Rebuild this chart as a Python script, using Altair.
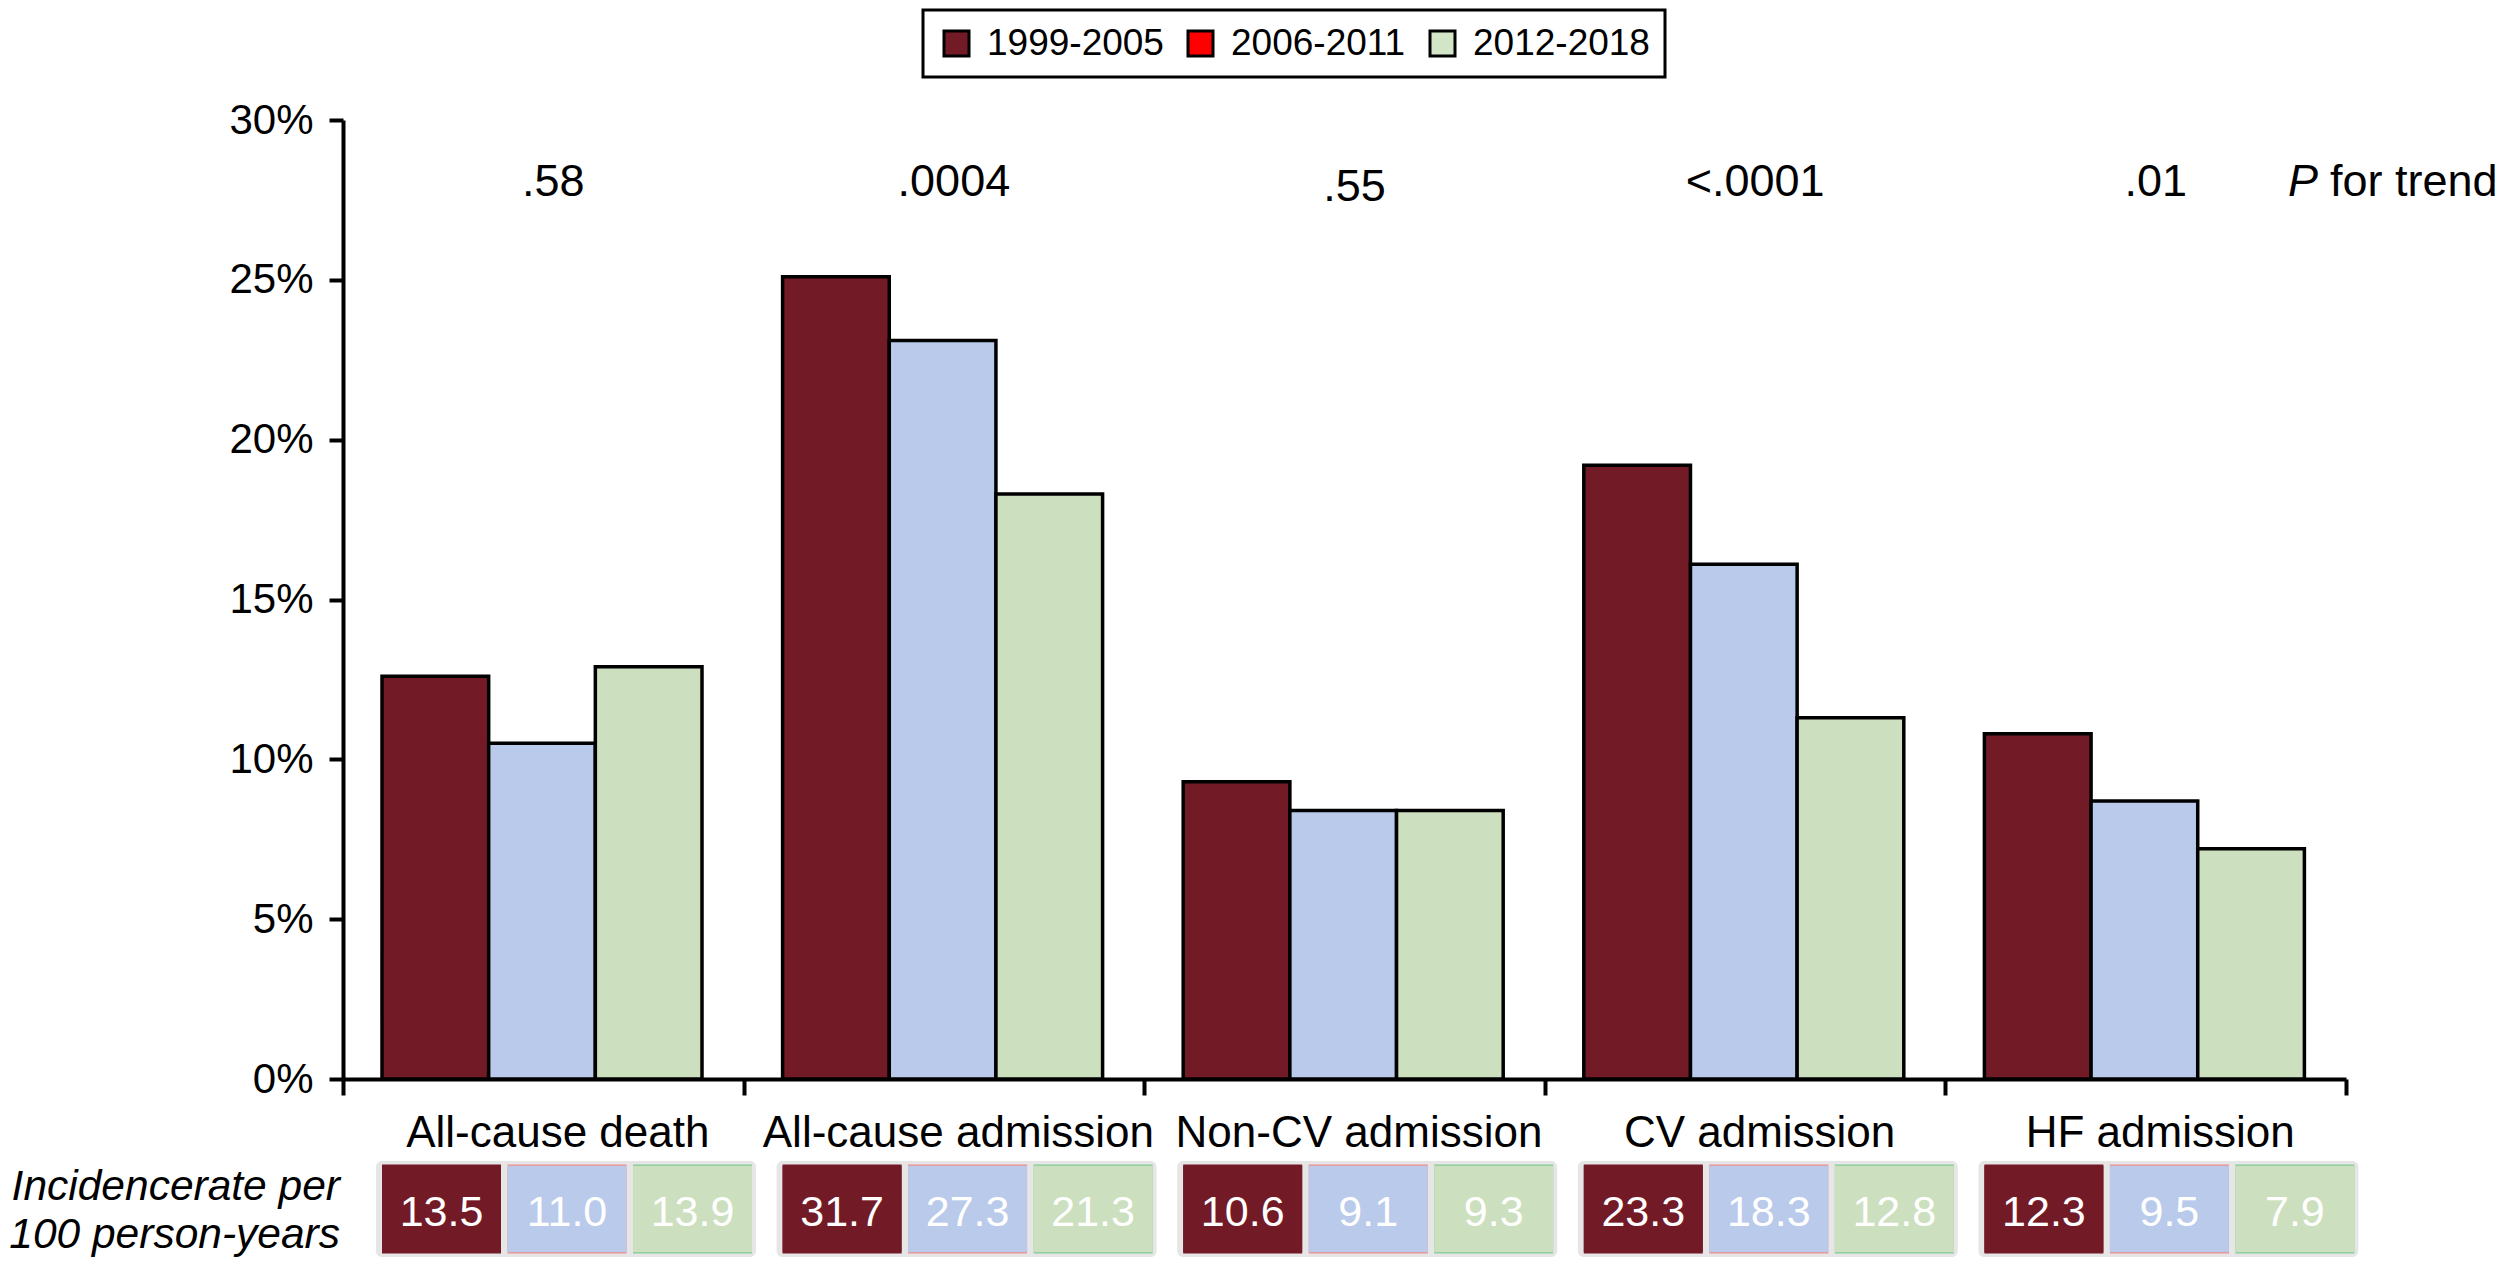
import pandas as pd
import altair as alt

# values
categories = ["All-cause death", "All-cause admission", "Non-CV admission",
              "CV admission", "HF admission"]
periods = ["1999-2005", "2006-2011", "2012-2018"]

pct_1999 = [12.6, 25.1, 9.3, 19.2, 10.8]
pct_2006 = [10.5, 23.1, 8.4, 16.1, 8.7]
pct_2012 = [12.9, 18.3, 8.4, 11.3, 7.2]

inc_1999 = [13.5, 31.7, 10.6, 23.3, 12.3]
inc_2006 = [11.0, 27.3, 9.1, 18.3, 9.5]
inc_2012 = [13.9, 21.3, 9.3, 12.8, 7.9]

p_trend = [".58", ".0004", ".55", "<.0001", ".01"]
p_level = [28.05, 28.05, 27.9, 28.05, 28.05]

bar_colors = ["#731A27", "#B9CAEB", "#CCDFBE"]
legend_colors = ["#731A27", "#FF0000", "#D2E5C6"]
border_colors = ["#731A27", "#F28A8A", "#7FCC94"]

FONT = "Liberation Sans"
W, H = 2003, 959
TABLE_H = 96

rows = []
for i, cat in enumerate(categories):
    pcts = [pct_1999[i], pct_2006[i], pct_2012[i]]
    incs = [inc_1999[i], inc_2006[i], inc_2012[i]]
    for j, period in enumerate(periods):
        rows.append({"category": cat, "period": period, "pct": pcts[j],
                     "inc": incs[j], "border": border_colors[j], "row": "r"})
df = pd.DataFrame(rows)
df_groups = pd.DataFrame({"category": categories, "g": "g", "row": "r"})
df_p = pd.DataFrame({"category": categories, "p": p_trend, "y": p_level})

x_axis = alt.Axis(title=None, labelAngle=0, tickBand="extent", tickSize=16,
                  labelPadding=16, labelFontSize=44, labelLimit=600,
                  labelOffset=14, labelOverlap=False, domainWidth=4,
                  tickWidth=4, domainColor="black", tickColor="black",
                  labelColor="black")
x_top = alt.X("category:N", sort=categories,
              scale=alt.Scale(paddingInner=0, paddingOuter=0), axis=x_axis)
x_bottom = alt.X("category:N", sort=categories,
                 scale=alt.Scale(paddingInner=0, paddingOuter=0), axis=None)

y_axis = alt.Axis(title=None, values=[0, 5, 10, 15, 20, 25, 30],
                  labelExpr="datum.value + '%'", tickSize=14, labelPadding=16,
                  labelFontSize=42, domainWidth=4, tickWidth=4, grid=False,
                  domainColor="black", tickColor="black", labelColor="black")
y_scale = alt.Scale(domain=[0, 30], nice=False)

# ---- bar panel ----
bars = alt.Chart(df).mark_bar(stroke="black", strokeWidth=3.5).encode(
    x=x_top,
    xOffset=alt.XOffset("period:N", sort=periods,
                        scale=alt.Scale(range=[39, 359], paddingInner=0, paddingOuter=0)),
    y=alt.Y("pct:Q", scale=y_scale, axis=y_axis, stack=None),
    fill=alt.Fill("period:N", sort=periods,
                  scale=alt.Scale(domain=periods, range=bar_colors), legend=None),
)

# legend keeps the figure's own swatch colours
legend_layer = alt.Chart(df).mark_bar(opacity=0).encode(
    x=x_top,
    y=alt.Y("pct:Q", scale=y_scale, axis=y_axis, stack=None),
    color=alt.Color(
        "period:N", sort=periods,
        scale=alt.Scale(domain=periods, range=legend_colors),
        legend=alt.Legend(title=None, orient="none", legendX=580, legendY=-110,
                          direction="horizontal", symbolType="square",
                          symbolSize=625, symbolStrokeColor="black",
                          symbolStrokeWidth=3, symbolOpacity=1,
                          labelFontSize=37, labelFont=FONT, labelColor="black",
                          labelLimit=500, labelOffset=12, padding=15,
                          columnPadding=18, strokeColor="black", fillColor="white"),
    ),
)

ptext = alt.Chart(df_p).mark_text(fontSize=45, font=FONT, color="black",
                                  baseline="middle", dx=10).encode(
    x=x_top,
    y=alt.Y("y:Q", scale=y_scale, axis=y_axis),
    text="p:N",
)
p_label = alt.Chart(df_p.tail(1)).mark_text(
    text="P", fontSize=45, font=FONT, fontStyle="italic", color="black",
    align="left", baseline="middle").encode(
    x=alt.value(W - 58),
    y=alt.Y("y:Q", scale=y_scale, axis=y_axis),
)
for_label = alt.Chart(df_p.tail(1)).mark_text(
    text="for trend", fontSize=45, font=FONT, color="black",
    align="left", baseline="middle").encode(
    x=alt.value(W - 16),
    y=alt.Y("y:Q", scale=y_scale, axis=y_axis),
)

top = alt.layer(bars, ptext, p_label, for_label, legend_layer).properties(
    width=W, height=H
)

# ---- incidence table ----
table_bg = alt.Chart(df_groups).mark_bar(color="#E6E6E6", cornerRadius=6).encode(
    x=x_bottom,
    xOffset=alt.XOffset("g:N", scale=alt.Scale(range=[33, 413], paddingInner=0, paddingOuter=0)),
    y=alt.Y("row:N", scale=alt.Scale(paddingInner=0, paddingOuter=0), axis=None),
)
cell_offset = alt.XOffset("period:N", sort=periods,
                          scale=alt.Scale(range=[39, 409], paddingInner=0.052, paddingOuter=0))
cell_border = alt.Chart(df).mark_bar().encode(
    x=x_bottom, xOffset=cell_offset,
    y=alt.Y("row:N", scale=alt.Scale(paddingInner=0, paddingOuter=0.04), axis=None),
    fill=alt.Fill("border:N", scale=None, legend=None),
)
cells = alt.Chart(df).mark_bar().encode(
    x=x_bottom, xOffset=cell_offset,
    y=alt.Y("row:N", scale=alt.Scale(paddingInner=0, paddingOuter=0.055), axis=None),
    fill=alt.Fill("period:N", sort=periods,
                  scale=alt.Scale(domain=periods, range=bar_colors), legend=None),
)
# text sits on the cell centres (point scale spanning the first and last centre)
cell_text = alt.Chart(df).mark_text(color="white", fontSize=43, font=FONT,
                                    baseline="middle", dy=4).encode(
    x=x_bottom,
    xOffset=alt.XOffset("period:N", sort=periods,
                        scale=alt.Scale(type="point", range=[98.5, 349.5], padding=0)),
    y=alt.Y("row:N", scale=alt.Scale(paddingInner=0, paddingOuter=0.055), axis=None),
    text=alt.Text("inc:Q", format=".1f"),
)
row_title = alt.Chart(df_groups.head(1)).mark_text(
    text=["Incidencerate per", "100 person-years"], fontSize=42.5, font=FONT,
    fontStyle="italic", color="black", align="right", baseline="middle",
    lineHeight=48, dy=-22).encode(
    x=alt.value(-3),
    y=alt.Y("row:N", scale=alt.Scale(paddingInner=0, paddingOuter=0), axis=None),
)

bottom = alt.layer(table_bg, cell_border, cells, cell_text, row_title).resolve_scale(
    xOffset="independent", fill="independent", y="independent"
).properties(width=W, height=TABLE_H)

chart = alt.vconcat(top, bottom, spacing=4).resolve_scale(
    x="independent", y="independent", xOffset="independent", fill="independent"
).properties(
    padding={"left": 0, "top": 0, "right": 0, "bottom": 0},
).configure(
    font=FONT, background="white"
).configure_axis(
    labelFont=FONT
).configure_legend(
    strokeWidth=3
).configure_view(
    stroke="transparent"
)

chart.save("out.html", embed_options={"renderer": "svg", "actions": False})
